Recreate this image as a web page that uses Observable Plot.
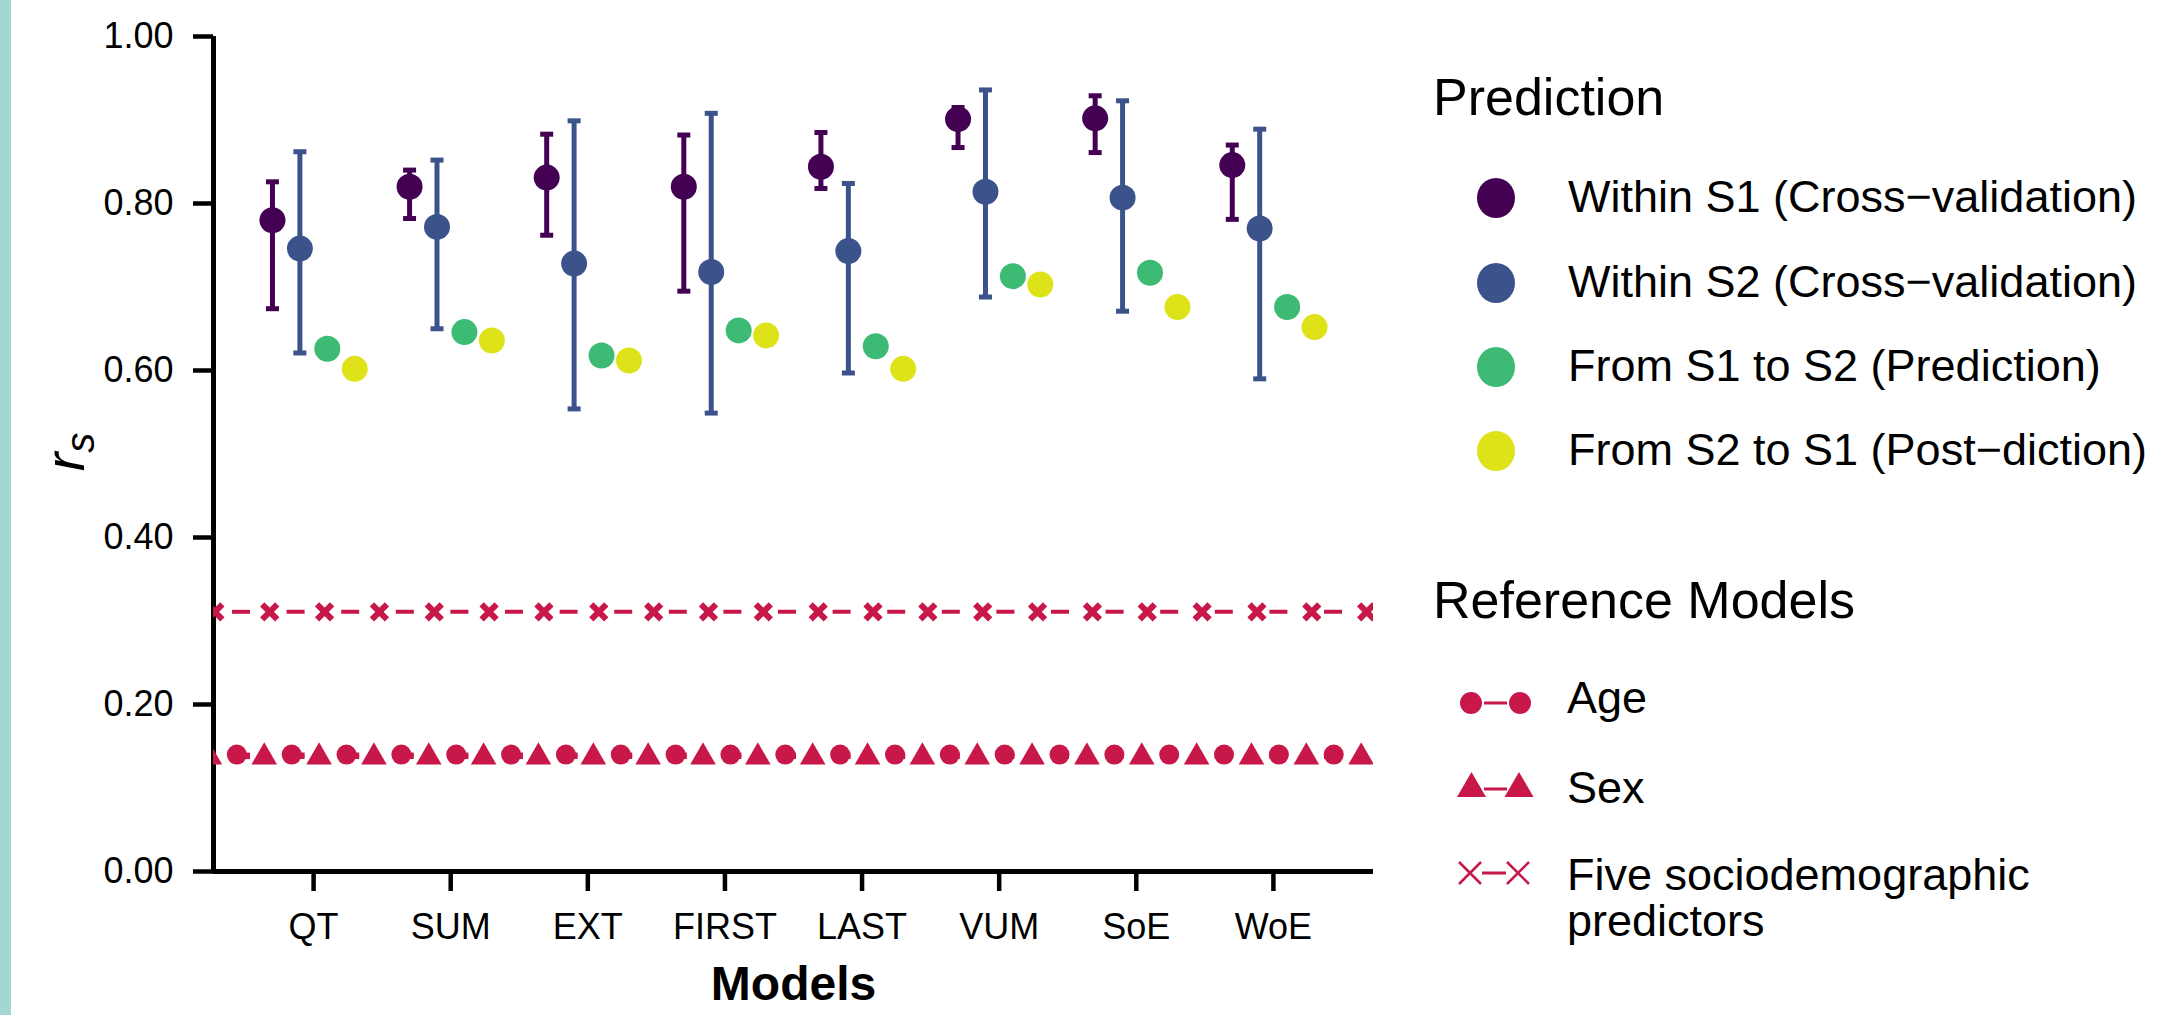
<!DOCTYPE html>
<html>
<head>
<meta charset="utf-8">
<script src="https://cdn.jsdelivr.net/npm/d3@7"></script>
<script src="https://cdn.jsdelivr.net/npm/@observablehq/plot@0.6"></script>
<style>
  body { margin: 0; background: #fff; font-family: "Liberation Sans", Arial, sans-serif; }
  #wrap { position: relative; width: 2157px; height: 1015px; overflow: hidden; background: #fff; }
  #stripe { position: absolute; left: 0; top: 0; width: 11px; height: 1015px; background: #a4d7d2; }
  #chart { position: absolute; left: 0; top: 0; }
  #legend { position: absolute; left: 1380px; top: 0; }
</style>
</head>
<body>
<div id="wrap">
  <div id="chart"></div>
  <div id="stripe"></div>
  <div id="legend"></div>
</div>
<script>
// ---------- DATA ----------
const models = ["QT", "SUM", "EXT", "FIRST", "LAST", "VUM", "SoE", "WoE"];
const seriesNames = [
  "Within S1 (Cross\u2212validation)",
  "Within S2 (Cross\u2212validation)",
  "From S1 to S2 (Prediction)",
  "From S2 to S1 (Post\u2212diction)"
];
const seriesColors = ["#440154", "#3b528b", "#3dbb74", "#dde318"];

const withinS1    = [0.780, 0.820, 0.831, 0.820, 0.844, 0.901, 0.902, 0.846];
const withinS1Lo  = [0.674, 0.782, 0.762, 0.695, 0.818, 0.867, 0.861, 0.781];
const withinS1Hi  = [0.826, 0.840, 0.883, 0.882, 0.885, 0.915, 0.929, 0.870];
const withinS2    = [0.746, 0.772, 0.728, 0.718, 0.743, 0.814, 0.807, 0.770];
const withinS2Lo  = [0.621, 0.650, 0.554, 0.549, 0.597, 0.688, 0.671, 0.590];
const withinS2Hi  = [0.862, 0.852, 0.899, 0.908, 0.824, 0.936, 0.923, 0.889];
const s1ToS2      = [0.626, 0.646, 0.618, 0.648, 0.629, 0.713, 0.717, 0.676];
const s2ToS1      = [0.602, 0.636, 0.612, 0.642, 0.602, 0.703, 0.676, 0.652];

const refNames  = ["Age", "Sex", "Five sociodemographic predictors"];
const refValues = [0.140, 0.137, 0.311];
const refColor  = "#c8184a";

const yTicks = [0, 0.2, 0.4, 0.6, 0.8, 1.0];

// ---------- TABLES ----------
const xDomain = [0.27, 8.73];
const dodge = [-0.3, -0.1, 0.1, 0.3];
const seriesVals = [withinS1, withinS2, s1ToS2, s2ToS1];
const seriesLo = [withinS1Lo, withinS2Lo, null, null];
const seriesHi = [withinS1Hi, withinS2Hi, null, null];

const rows = [];
models.forEach((m, i) => {
  seriesNames.forEach((s, j) => {
    rows.push({
      model: m, series: s, x: i + 1 + dodge[j], value: seriesVals[j][i],
      lo: seriesLo[j] ? seriesLo[j][i] : null,
      hi: seriesHi[j] ? seriesHi[j][i] : null
    });
  });
});
const errRows = rows.filter(d => d.lo != null);

const refRows = refNames.map((n, i) => ({name: n, value: refValues[i]}));
// marker sampling along the constant reference lines
const ageMarks  = d3.range(0.44, xDomain[1] + 0.05, 0.4).map(x => ({x, y: refValues[0]}));
const sexMarks  = d3.range(0.24, xDomain[1] + 0.05, 0.4).map(x => ({x, y: refValues[1]}));
const fiveMarks = d3.range(0.28, xDomain[1] + 0.05, 0.4).map(x => ({x, y: refValues[2]}));

// custom symbols
const capSym = { draw(ctx, size) { const r = Math.sqrt(size / Math.PI); ctx.moveTo(-r, 0); ctx.lineTo(r, 0); } };
const timesSym = { draw(ctx, size) { const r = Math.sqrt(size / Math.PI); ctx.moveTo(-r, -r); ctx.lineTo(r, r); ctx.moveTo(-r, r); ctx.lineTo(r, -r); } };

// ---------- PLOT ----------
const chart = Plot.plot({
  width: 2157,
  height: 1015,
  marginLeft: 213,
  marginRight: 784,
  marginTop: 36,
  marginBottom: 144,
  style: { fontFamily: "'Liberation Sans', Arial, sans-serif", fontSize: "36px", background: "transparent", color: "#000" },
  x: { type: "linear", domain: xDomain },
  y: { domain: [0, 1] },
  color: { type: "ordinal", domain: seriesNames, range: seriesColors },
  marks: [
    Plot.axisY({ ticks: yTicks, tickFormat: d3.format(".2f"), tickSize: 20, tickPadding: 20, fontSize: 36, strokeWidth: 4.5, label: null }),
    Plot.axisX({ ticks: d3.range(1, models.length + 1), tickFormat: v => models[v - 1], tickSize: 20, tickPadding: 22, fontSize: 36, strokeWidth: 4.5, label: null }),
    Plot.ruleX([xDomain[0]], { stroke: "#000", strokeWidth: 5 }),
    Plot.ruleY([0], { stroke: "#000", strokeWidth: 5 }),
    // reference lines
    Plot.ruleY(refRows, { y: "value", stroke: refColor, strokeWidth: 4, strokeDasharray: "18 36.6", strokeDashoffset: 35.6 }),
    Plot.dot(ageMarks, { x: "x", y: "y", r: 10, fill: refColor, symbol: "circle", clip: true }),
    Plot.dot(sexMarks, { x: "x", y: "y", r: 9.5, fill: refColor, symbol: "triangle", clip: true }),
    Plot.dot(fiveMarks, { x: "x", y: "y", r: 7.5, fill: "none", stroke: refColor, strokeWidth: 6, symbol: timesSym, clip: true }),
    // error bars
    Plot.ruleX(errRows, { x: "x", y1: "lo", y2: "hi", stroke: "series", strokeWidth: 5 }),
    Plot.dot(errRows, { x: "x", y: "lo", r: 6.5, symbol: capSym, fill: "none", stroke: "series", strokeWidth: 5 }),
    Plot.dot(errRows, { x: "x", y: "hi", r: 6.5, symbol: capSym, fill: "none", stroke: "series", strokeWidth: 5 }),
    // points
    Plot.dot(rows, { x: "x", y: "value", r: 13, fill: "series", symbol: "circle" }),
    // axis title
    Plot.text(["Models"], { frameAnchor: "bottom", lineAnchor: "bottom", dy: 128, fontSize: 48, fontWeight: "bold", fill: "#000" })
  ]
});
document.getElementById("chart").appendChild(chart);

// y-axis title r_s
const ylab = d3.select(chart).append("text")
  .attr("transform", "translate(84,452) rotate(-90)")
  .attr("text-anchor", "middle")
  .attr("font-family", "'Liberation Sans', Arial, sans-serif")
  .attr("font-style", "italic")
  .attr("fill", "#000");
ylab.append("tspan").attr("font-size", 56).text("r");
ylab.append("tspan").attr("font-size", 40).attr("dy", 10).text("s");

// ---------- LEGEND ----------
const lg = d3.select("#legend").append("svg")
  .attr("width", 777).attr("height", 1015)
  .attr("font-family", "'Liberation Sans', Arial, sans-serif");

lg.append("text").attr("x", 53).attr("y", 115).attr("font-size", 52).text("Prediction");
const predY = [198, 283, 367, 451];
seriesNames.forEach((s, i) => {
  lg.append("ellipse").attr("cx", 116).attr("cy", predY[i]).attr("rx", 19).attr("ry", 20).attr("fill", seriesColors[i]);
  lg.append("text").attr("x", 188).attr("y", predY[i] + 14).attr("font-size", 45).text(s);
});

lg.append("text").attr("x", 53).attr("y", 618).attr("font-size", 52).text("Reference Models");
// Age
lg.append("line").attr("x1", 104).attr("x2", 127).attr("y1", 703).attr("y2", 703).attr("stroke", refColor).attr("stroke-width", 3);
[91, 140].forEach(cx => lg.append("circle").attr("cx", cx).attr("cy", 703).attr("r", 11).attr("fill", refColor));
lg.append("text").attr("x", 187).attr("y", 713).attr("font-size", 45).text(refNames[0]);
// Sex
lg.append("line").attr("x1", 104).attr("x2", 127).attr("y1", 789).attr("y2", 789).attr("stroke", refColor).attr("stroke-width", 3);
[91.5, 139].forEach(cx => lg.append("path")
  .attr("d", `M${cx},772 L${cx + 14.5},797 L${cx - 14.5},797 Z`).attr("fill", refColor));
lg.append("text").attr("x", 187).attr("y", 803).attr("font-size", 45).text(refNames[1]);
// Five
lg.append("line").attr("x1", 102).attr("x2", 126).attr("y1", 873).attr("y2", 873).attr("stroke", refColor).attr("stroke-width", 3);
[90, 138].forEach(cx => lg.append("path")
  .attr("d", `M${cx - 11},${862} L${cx + 11},${884} M${cx - 11},${884} L${cx + 11},${862}`)
  .attr("stroke", refColor).attr("stroke-width", 2.5).attr("fill", "none"));
const ft = lg.append("text").attr("x", 187).attr("y", 890).attr("font-size", 45);
ft.append("tspan").attr("x", 187).text("Five sociodemographic");
ft.append("tspan").attr("x", 187).attr("dy", 46).text("predictors");
</script>
</body>
</html>
